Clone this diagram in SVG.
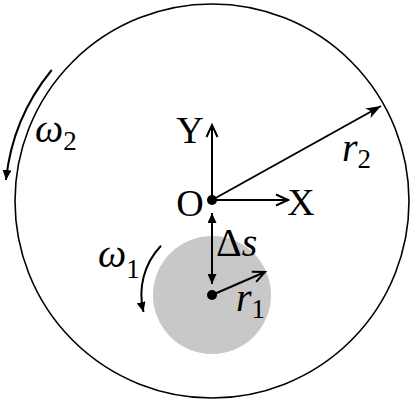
<svg xmlns="http://www.w3.org/2000/svg" width="416" height="405" viewBox="0 0 416 405">
<style>
.ln{stroke:#000;stroke-width:2;fill:none}
.lbl{font-family:"Liberation Serif","DejaVu Serif",serif;font-size:38px;fill:#000}
.m{font-family:"Liberation Serif","DejaVu Serif",serif;font-size:40px;font-style:italic;fill:#000}
.sub{font-style:normal;font-size:27px}
</style>
<defs>
<marker id="chev" markerUnits="userSpaceOnUse" markerWidth="16" markerHeight="14" viewBox="0 0 16 14" refX="14" refY="7" orient="auto">
<path d="M2,1.5 L14,7 L2,12.5" stroke="#000" stroke-width="2" fill="none"/>
</marker>
<marker id="stealth" markerUnits="userSpaceOnUse" markerWidth="16" markerHeight="12" viewBox="0 0 16 12" refX="15" refY="6" orient="auto">
<path d="M0,0.5 L15,6 L0,11.5 L4,6 Z" fill="#000"/>
</marker>
<marker id="tri" markerUnits="userSpaceOnUse" markerWidth="10" markerHeight="9" viewBox="0 0 10 9" refX="10" refY="4.5" orient="auto-start-reverse">
<path d="M0,0 L10,4.5 L0,9 Z" fill="#000"/>
</marker>
</defs>
<rect width="416" height="405" fill="#fff"/>
<g id="outer-disc">
<circle cx="212" cy="201" r="197" fill="none" stroke="#000" stroke-width="1.6"/>
</g>
<g id="inner-disc">
<circle cx="212" cy="295" r="59" fill="#c8c8c8"/>
</g>
<g id="connectors">
<line class="ln" x1="212" y1="200" x2="212" y2="125" marker-end="url(#chev)"/>
<line class="ln" x1="212" y1="200" x2="288" y2="200" marker-end="url(#chev)"/>
<line class="ln" x1="212" y1="200" x2="381" y2="106" marker-end="url(#stealth)"/>
<line class="ln" x1="212" y1="213" x2="212" y2="284" marker-start="url(#tri)" marker-end="url(#tri)"/>
<line class="ln" x1="212" y1="295" x2="265" y2="272" marker-end="url(#chev)"/>
<path class="ln" d="M51.7,70 A207,207 0 0 0 6,180" stroke-width="1.6" marker-end="url(#tri)"/>
<path class="ln" d="M161,245.7 A71,71 0 0 0 143.5,312" stroke-width="1.6" marker-end="url(#tri)"/>
</g>
<g id="origin">
<circle cx="212" cy="200" r="5" fill="#000"/>
<text class="lbl" x="190" y="216" text-anchor="middle">O</text>
</g>
<g id="inner-center">
<circle cx="212" cy="295" r="5" fill="#000"/>
</g>
<g id="labels">
<text class="lbl" x="190" y="143" text-anchor="middle">Y</text>
<text class="lbl" x="301" y="215" text-anchor="middle">X</text>
<text class="m" x="216" y="256" font-size="38"><tspan font-style="normal">Δ</tspan>s</text>
<text class="m" x="98" y="267">ω<tspan class="sub" dy="11">1</tspan></text>
<text class="m" x="35" y="142">ω<tspan class="sub" dy="8">2</tspan></text>
<text class="m" x="236" y="311">r<tspan class="sub" dy="7">1</tspan></text>
<text class="m" x="342" y="161">r<tspan class="sub" dy="7">2</tspan></text>
</g>
</svg>
